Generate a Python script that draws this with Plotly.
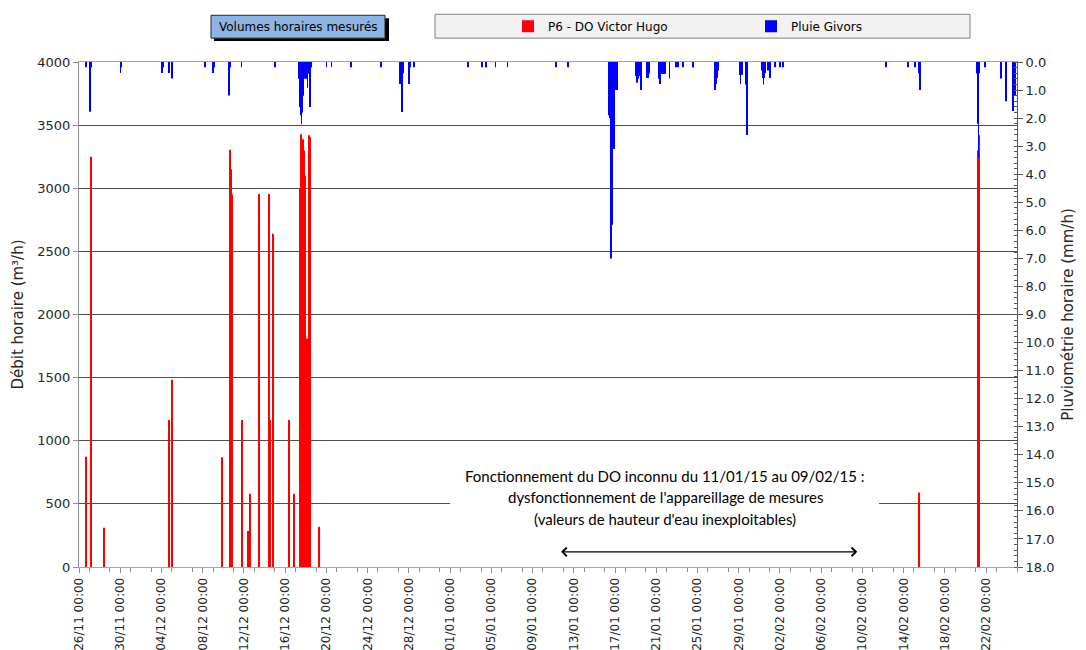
import plotly.graph_objects as go

# debit horaire mesure, P6 - DO Victor Hugo (m3/h)
flow_time = [
    "2014-11-26 17:00", "2014-11-27 04:00", "2014-11-28 10:00",
    "2014-12-04 18:00", "2014-12-05 01:00", "2014-12-09 20:00",
    "2014-12-10 15:00", "2014-12-10 16:00", "2014-12-10 17:00", "2014-12-10 18:00",
    "2014-12-10 19:00", "2014-12-10 20:00",
    "2014-12-11 20:00", "2014-12-12 10:00", "2014-12-12 14:00", "2014-12-13 12:00",
    "2014-12-14 10:00", "2014-12-14 12:00", "2014-12-14 20:00",
    "2014-12-16 10:00", "2014-12-16 20:00",
    "2014-12-17 10:00", "2014-12-17 11:00", "2014-12-17 12:00", "2014-12-17 13:00",
    "2014-12-17 14:00", "2014-12-17 15:00", "2014-12-17 16:00", "2014-12-17 17:00",
    "2014-12-17 18:00", "2014-12-17 19:00", "2014-12-17 20:00", "2014-12-17 21:00",
    "2014-12-17 22:00", "2014-12-17 23:00",
    "2014-12-18 01:00", "2014-12-18 03:00",
    "2014-12-18 08:00", "2014-12-18 09:00", "2014-12-18 10:00", "2014-12-18 11:00",
    "2014-12-19 08:00",
    "2015-02-15 13:00", "2015-02-21 06:00", "2015-02-21 07:00",
]
flow_m3h = [
    874, 3250, 310,
    1165, 1483, 869,
    3305, 3230, 3150, 3060,
    2990, 2950,
    1165, 286, 580, 2955,
    2955, 1165, 2640,
    1165, 580,
    2659, 3000, 3200, 3428,
    3300, 3150, 3250, 3350,
    3388, 3300, 3250, 3180,
    3100, 2700,
    1450, 1809,
    3420, 3380, 3405, 3300,
    318,
    590, 3300, 3420,
]

# pluie horaire a Givors (mm/h)
rain_time = [
    "2014-11-26 16:00", "2014-11-27 01:00", "2014-11-27 02:00", "2014-11-27 03:00", "2014-11-27 04:00",
    "2014-11-30 01:00", "2014-11-30 02:00",
    "2014-12-04 01:00", "2014-12-04 02:00", "2014-12-04 03:00", "2014-12-04 17:00", "2014-12-05 01:00",
    "2014-12-08 06:00", "2014-12-09 00:00", "2014-12-09 02:00",
    "2014-12-10 12:00", "2014-12-10 13:00", "2014-12-10 14:00", "2014-12-10 15:00",
    "2014-12-11 18:00", "2014-12-15 00:00",
    "2014-12-17 09:00", "2014-12-17 10:00", "2014-12-17 11:00", "2014-12-17 12:00",
    "2014-12-17 13:00", "2014-12-17 14:00", "2014-12-17 15:00", "2014-12-17 16:00",
    "2014-12-17 17:00", "2014-12-17 18:00", "2014-12-17 19:00", "2014-12-17 20:00",
    "2014-12-17 21:00", "2014-12-17 22:00", "2014-12-17 23:00",
    "2014-12-18 00:00", "2014-12-18 01:00", "2014-12-18 02:00", "2014-12-18 03:00",
    "2014-12-18 04:00", "2014-12-18 05:00", "2014-12-18 06:00", "2014-12-18 07:00",
    "2014-12-18 08:00", "2014-12-18 09:00", "2014-12-18 10:00", "2014-12-18 11:00",
    "2014-12-18 12:00",
    "2014-12-20 00:00", "2014-12-20 12:00", "2014-12-22 10:00", "2014-12-25 07:00",
    "2014-12-27 02:00", "2014-12-27 03:00", "2014-12-27 04:00", "2014-12-27 05:00",
    "2014-12-27 06:00", "2014-12-27 07:00", "2014-12-27 08:00", "2014-12-27 09:00",
    "2014-12-27 10:00", "2014-12-27 11:00",
    "2014-12-28 00:00", "2014-12-28 01:00", "2014-12-28 02:00", "2014-12-28 12:00",
    "2015-01-02 17:00", "2015-01-04 02:00", "2015-01-04 11:00", "2015-01-04 12:00",
    "2015-01-05 10:00", "2015-01-06 14:00", "2015-01-11 07:00", "2015-01-12 10:00",
    "2015-01-16 09:00", "2015-01-16 10:00", "2015-01-16 11:00", "2015-01-16 12:00",
    "2015-01-16 13:00", "2015-01-16 14:00", "2015-01-16 15:00", "2015-01-16 16:00",
    "2015-01-16 17:00", "2015-01-16 18:00", "2015-01-16 19:00", "2015-01-16 20:00",
    "2015-01-16 21:00", "2015-01-16 22:00", "2015-01-16 23:00",
    "2015-01-17 00:00", "2015-01-17 01:00", "2015-01-17 02:00", "2015-01-17 03:00",
    "2015-01-17 04:00",
    "2015-01-19 00:00", "2015-01-19 01:00", "2015-01-19 02:00", "2015-01-19 03:00",
    "2015-01-19 04:00", "2015-01-19 05:00", "2015-01-19 06:00", "2015-01-19 07:00",
    "2015-01-19 08:00", "2015-01-19 09:00", "2015-01-19 10:00", "2015-01-19 11:00",
    "2015-01-19 12:00", "2015-01-19 13:00", "2015-01-19 14:00",
    "2015-01-20 02:00", "2015-01-20 03:00", "2015-01-20 04:00", "2015-01-20 05:00",
    "2015-01-20 06:00", "2015-01-20 07:00", "2015-01-20 08:00",
    "2015-01-21 05:00", "2015-01-21 06:00", "2015-01-21 07:00", "2015-01-21 08:00",
    "2015-01-21 09:00", "2015-01-21 10:00", "2015-01-21 11:00", "2015-01-21 12:00",
    "2015-01-21 13:00", "2015-01-21 14:00", "2015-01-21 15:00", "2015-01-21 16:00",
    "2015-01-21 17:00", "2015-01-21 18:00", "2015-01-21 19:00", "2015-01-21 20:00",
    "2015-01-22 07:00",
    "2015-01-22 22:00", "2015-01-23 02:00", "2015-01-23 14:00",
    "2015-01-24 13:00", "2015-01-24 14:00", "2015-01-24 15:00",
    "2015-01-26 17:00", "2015-01-26 18:00", "2015-01-26 19:00", "2015-01-26 20:00",
    "2015-01-26 21:00", "2015-01-26 22:00", "2015-01-26 23:00", "2015-01-27 00:00",
    "2015-01-27 01:00",
    "2015-01-29 02:00", "2015-01-29 03:00", "2015-01-29 04:00", "2015-01-29 05:00",
    "2015-01-29 06:00", "2015-01-29 07:00", "2015-01-29 16:00", "2015-01-29 17:00",
    "2015-01-29 18:00", "2015-01-29 19:00",
    "2015-01-31 07:00", "2015-01-31 08:00", "2015-01-31 09:00", "2015-01-31 10:00",
    "2015-01-31 11:00", "2015-01-31 12:00", "2015-01-31 13:00", "2015-01-31 20:00",
    "2015-02-01 01:00", "2015-02-01 02:00",
    "2015-02-01 12:00", "2015-02-02 00:00", "2015-02-02 07:00",
    "2015-02-12 07:00", "2015-02-14 10:00", "2015-02-15 02:00",
    "2015-02-15 12:00", "2015-02-15 13:00", "2015-02-15 14:00", "2015-02-15 15:00",
    "2015-02-21 02:00", "2015-02-21 03:00", "2015-02-21 04:00", "2015-02-21 05:00",
    "2015-02-21 06:00", "2015-02-21 07:00",
    "2015-02-21 22:00", "2015-02-23 10:00", "2015-02-23 22:00",
    "2015-02-24 14:00", "2015-02-24 15:00", "2015-02-24 16:00", "2015-02-24 17:00",
    "2015-02-24 18:00", "2015-02-24 19:00", "2015-02-24 20:00",
]
rain_mm = [
    0.19, 0.24, 1.77, 0.24, 0.2,
    0.39, 0.2,
    0.39, 0.39, 0.2, 0.39, 0.59,
    0.19, 0.39, 0.2,
    0.39, 1.19, 0.39, 0.2,
    0.19, 0.19,
    0.6, 1.2, 1.6, 1.0,
    1.9, 2.22, 1.8, 1.4,
    1.0, 0.8, 1.2, 0.6,
    0.4, 0.5, 0.6,
    0.4, 0.4, 0.6, 0.4,
    0.92, 0.4, 0.4, 0.4,
    0.4, 0.6, 1.6, 0.4,
    0.2,
    0.19, 0.19, 0.19, 0.19,
    0.4, 0.4, 0.78, 0.4,
    0.4, 0.4, 1.78, 0.4,
    0.4, 0.4,
    0.41, 0.78, 0.2, 0.19,
    0.19, 0.19, 0.19, 0.19,
    0.19, 0.19, 0.19, 0.19,
    1.6, 1.9, 1.6, 1.7,
    2.0, 1.8, 7.0, 3.2,
    5.8, 4.8, 3.0, 1.6,
    3.1, 1.0, 0.9,
    1.0, 0.6, 1.0, 0.5,
    1.0,
    0.4, 0.5, 0.6, 0.5,
    0.74, 0.5, 0.6, 0.4,
    0.5, 0.4, 0.5, 0.6,
    1.0, 0.5, 0.4,
    0.4, 0.57, 0.4, 0.3,
    0.57, 0.4, 0.4,
    0.42, 0.6, 0.42, 0.78,
    0.6, 0.42, 0.42, 0.3,
    0.42, 0.42, 0.42, 0.3,
    0.42, 0.42, 0.3, 0.42,
    0.59,
    0.19, 0.19, 0.19,
    0.19, 0.19, 0.19,
    1.0, 0.6, 0.5, 0.78,
    0.57, 0.5, 0.4, 0.3,
    0.2,
    0.45, 0.45, 0.78, 0.45,
    0.3, 0.45, 0.45, 0.8,
    1.75, 2.6,
    0.3, 0.57, 0.57, 0.8,
    0.57, 0.4, 0.4, 0.3,
    0.57, 0.3,
    0.19, 0.19, 0.19,
    0.19, 0.19, 0.19,
    0.4, 1.0, 1.0, 0.4,
    0.4, 0.4, 0.8, 2.2,
    3.4, 0.4,
    0.19, 0.59, 1.4,
    0.6, 1.75, 0.6, 0.3,
    0.6, 0.4, 1.2,
]

HOUR = 3600 * 1000
DAY = 24 * HOUR

# plot area in pixels (left, right, top, bottom)
L, R, T, B = 79, 1017, 59, 567


def px_x(px):
    return (px - L) / (R - L)


def px_y(py):
    return (B - py) / (B - T)


font = "DejaVu Sans, Verdana, sans-serif"

fig = go.Figure()
fig.add_trace(go.Bar(x=flow_time, y=flow_m3h, name="P6 - DO Victor Hugo",
                     width=2.6 * HOUR, marker=dict(color="#FF0000", line=dict(width=0))))
fig.add_trace(go.Bar(x=rain_time, y=rain_mm, name="Pluie Givors", yaxis="y2",
                     width=1.6 * HOUR, marker=dict(color="#0000FF", line=dict(width=0))))

fig.update_layout(
    width=1086, height=650,
    margin=dict(l=L, r=1086 - R, t=T, b=650 - B),
    paper_bgcolor="white", plot_bgcolor="white",
    barmode="overlay",
    font=dict(family=font, size=13, color="#262626"),
    showlegend=True,
    legend=dict(orientation="h", x=px_x(508), xanchor="left", y=px_y(23), yanchor="middle",
                bgcolor="rgba(0,0,0,0)", font=dict(size=12, color="#000000"),
                entrywidth=198, entrywidthmode="pixels", traceorder="normal",
                itemwidth=30),
    xaxis=dict(
        type="date", range=["2014-11-26 00:00", "2015-02-25 00:00"],
        tick0="2014-11-26", dtick=4 * DAY, tickformat="%d/%m %H:%M", tickangle=-90,
        ticks="outside", ticklen=5, tickcolor="#8C8C8C",
        minor=dict(dtick=2 * DAY, ticks="outside", ticklen=4, tickcolor="#8C8C8C"),
        showgrid=False, showline=True, linecolor="#A6A6A6", linewidth=1, mirror=True,
        tickfont=dict(size=12), zeroline=False, automargin=False,
    ),
    yaxis=dict(
        range=[0, 4000], dtick=500, showgrid=True, gridcolor="#4D4D4D", gridwidth=1,
        showline=True, linecolor="#8C8C8C", ticks="outside", ticklen=5, tickcolor="#8C8C8C",
        zeroline=False, tickfont=dict(size=13), automargin=False,
        title=dict(text="Débit horaire (m³/h)", font=dict(size=15), standoff=10),
    ),
    yaxis2=dict(
        overlaying="y", side="right", range=[18, 0], dtick=1, tickformat=".1f",
        showgrid=False, showline=True, linecolor="#595959", zeroline=False,
        ticks="outside", ticklen=5, tickcolor="#595959",
        minor=dict(dtick=0.2, ticks="inside", ticklen=3, tickcolor="#595959"),
        tickfont=dict(size=13), automargin=False,
        title=dict(text="Pluviométrie horaire (mm/h)", font=dict(size=15), standoff=8),
    ),
)

shapes = [
    # legend frame
    dict(type="rect", xref="paper", yref="paper", layer="below",
         x0=px_x(435), x1=px_x(970), y0=px_y(35), y1=px_y(11),
         fillcolor="#F2F2F2", line=dict(color="#808080", width=1)),
    # title box shadow + box
    dict(type="rect", xref="paper", yref="paper",
         x0=px_x(214), x1=px_x(389), y0=px_y(38), y1=px_y(15),
         fillcolor="#000000", line=dict(width=0)),
    dict(type="rect", xref="paper", yref="paper",
         x0=px_x(211), x1=px_x(385), y0=px_y(35), y1=px_y(12),
         fillcolor="#8DB4E2", line=dict(color="#262626", width=1)),
    # white box behind the note
    dict(type="rect", xref="paper", yref="paper", layer="above",
         x0=px_x(450), x1=px_x(879), y0=px_y(545), y1=px_y(460),
         fillcolor="white", line=dict(width=0)),
]
fig.update_layout(shapes=shapes)

note = [
    "Fonctionnement du DO inconnu du 11/01/15 au 09/02/15 :",
    "dysfonctionnement de l'appareillage de mesures",
    "(valeurs de hauteur d'eau inexploitables)",
]
note_y = [475, 497, 519]
for line, py in zip(note, note_y):
    fig.add_annotation(text=line, xref="paper", yref="paper", x=px_x(665), y=px_y(py),
                       showarrow=False, xanchor="center", yanchor="middle",
                       font=dict(family="Lato, Open Sans, sans-serif", size=15, color="#000000"))

# double arrow over the faulty period
fig.add_annotation(x="2015-02-09 12:00", y=120, ax="2015-01-11 15:00", ay=120,
                   xref="x", yref="y", axref="x", ayref="y", text="",
                   showarrow=True, arrowside="end+start", arrowhead=4, arrowsize=1.4,
                   arrowwidth=1.2, arrowcolor="#000000", standoff=0, startstandoff=0)

fig.add_annotation(text="Volumes horaires mesurés", xref="paper", yref="paper",
                   x=px_x(298), y=px_y(23.5), showarrow=False,
                   xanchor="center", yanchor="middle",
                   font=dict(size=12, color="#000000"))

# the page is photographed from its top-left corner: drop the default body margin
fig.write_html("out.html", config={"displayModeBar": False},
               post_script="document.body.style.margin='0';")
